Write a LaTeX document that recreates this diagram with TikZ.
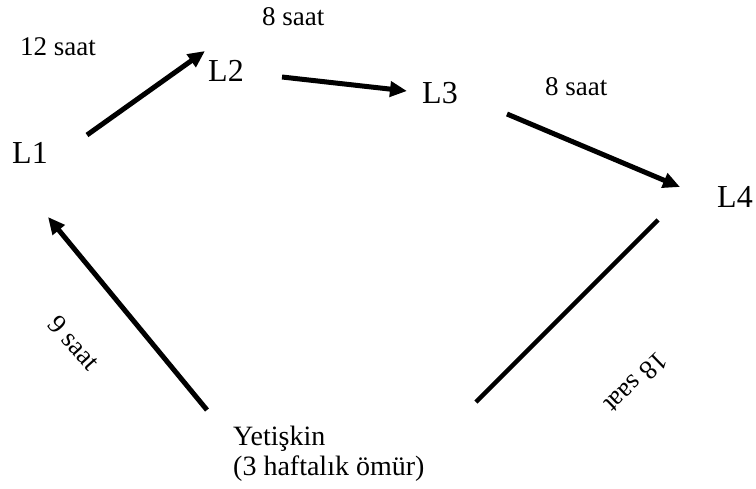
\documentclass[tikz,border=0pt]{standalone}
\usepackage{fontspec}
\setmainfont{Liberation Serif}
\usetikzlibrary{arrows.meta}
\begin{document}
\begin{tikzpicture}[x=1pt,y=-1pt,
  stage/.style={anchor=base west,inner sep=0pt,font=\fontsize{32}{36}\selectfont},
  lbl/.style={inner sep=0pt,font=\fontsize{27}{31}\selectfont},
  arr/.style={line width=5pt,-{Triangle[length=17pt,width=15pt]}},
  link/.style={line width=4.5pt}]
\useasboundingbox (0,0) rectangle (756,488);
% stage nodes
\node[stage] (L1) at (12,163) {L1};
\node[stage] (L2) at (208,81) {L2};
\node[stage] (L3) at (422,103) {L3};
\node[stage] (L4) at (717,207) {L4};
\node[lbl,anchor=base west,align=left,font=\fontsize{28}{31}\selectfont] (Y) at (233,475) {Yetişkin\\[-1pt](3 haftalık ömür)};
% time labels
\node[lbl,anchor=base west] (t1) at (20,55) {12 saat};
\node[lbl,anchor=base west] (t2) at (262,25) {8 saat};
\node[lbl,anchor=base west] (t3) at (545,95) {8 saat};
\node[lbl,rotate=-48] (t4) at (74,343) {9 saat};
\node[lbl,rotate=224] (t5) at (636,383) {18 saat};
% connector ends
\coordinate (s1) at (87,135);  \coordinate (e1) at (205,51);
\coordinate (s2) at (282,77);  \coordinate (e2) at (407,91);
\coordinate (s3) at (507,114); \coordinate (e3) at (680,187);
\coordinate (s4) at (658,220); \coordinate (e4) at (476,402);
\coordinate (s5) at (207,410); \coordinate (e5) at (48,217);
\draw[arr] (s1) -- (e1);
\draw[arr] (s2) -- (e2);
\draw[arr] (s3) -- (e3);
\draw[link] (s4) -- (e4);
\draw[arr] (s5) -- (e5);
\end{tikzpicture}
\end{document}
